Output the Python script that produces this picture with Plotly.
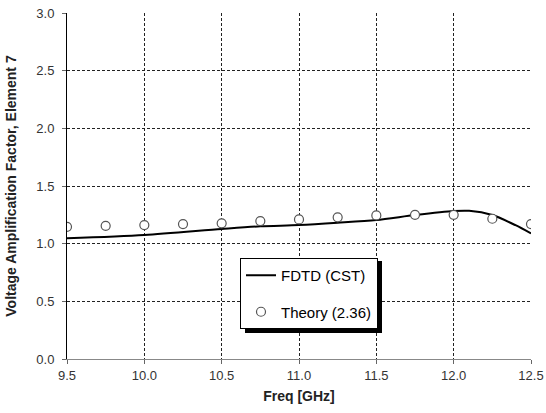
import plotly.graph_objects as go

freq_fdtd = [9.5, 10.0, 10.5, 10.75, 11.0, 11.25, 11.5, 11.75, 12.0, 12.1, 12.25, 12.4, 12.5]
fdtd = [1.046, 1.075, 1.127, 1.15, 1.161, 1.181, 1.205, 1.248, 1.283, 1.285, 1.248, 1.16, 1.089]

freq_theory = [9.5, 9.75, 10.0, 10.25, 10.5, 10.75, 11.0, 11.25, 11.5, 11.75, 12.0, 12.25, 12.5]
theory = [1.146, 1.155, 1.161, 1.17, 1.176, 1.196, 1.21, 1.228, 1.245, 1.25, 1.25, 1.216, 1.17]

x_ticks = [9.5, 10.0, 10.5, 11.0, 11.5, 12.0, 12.5]
y_ticks = [0.0, 0.5, 1.0, 1.5, 2.0, 2.5, 3.0]

fig = go.Figure()
fig.add_trace(go.Scatter(x=freq_fdtd, y=fdtd, mode="lines", name="FDTD (CST)",
                         line=dict(color="black", width=2, shape="spline", smoothing=0.8),
                         legendgroup="a"))
fig.add_trace(go.Scatter(x=freq_theory, y=theory, mode="markers", name="Theory (2.36)",
                         marker=dict(symbol="circle", size=9, color="white",
                                     line=dict(color="#555555", width=1.2)),
                         legendgroup="b"))

font_family = "Liberation Sans, Arial, sans-serif"
fig.update_layout(
    width=546, height=413,
    margin=dict(l=67, r=15, t=13, b=54),
    plot_bgcolor="white", paper_bgcolor="white",
    font=dict(family=font_family, size=13, color="#333333"),
    showlegend=True,
    legend=dict(x=(240 - 67) / 464, y=(359 - 258) / 346, xanchor="left", yanchor="top",
                bgcolor="white", bordercolor="black", borderwidth=1,
                font=dict(size=15, color="black"), tracegroupgap=14,
                itemwidth=30),
    xaxis=dict(range=[9.5, 12.5], tickvals=x_ticks, ticktext=[f"{v:.1f}" for v in x_ticks],
               showgrid=True, gridcolor="#222222", griddash="3px,2px", gridwidth=1,
               showline=True, linecolor="#888888", linewidth=1,
               ticks="outside", ticklen=4, tickcolor="#666666",
               zeroline=False, automargin=False,
               title=dict(text="<b>Freq [GHz]</b>", font=dict(size=14, color="#222222"), standoff=9)),
    yaxis=dict(range=[0, 3.0], tickvals=y_ticks, ticktext=[f"{v:.1f}" for v in y_ticks],
               showgrid=True, gridcolor="#222222", griddash="3px,2px", gridwidth=1,
               showline=True, linecolor="black", linewidth=1,
               ticks="outside", ticklen=4, tickcolor="#666666", ticklabelstandoff=5,
               zeroline=False, automargin=False,
               title=dict(text="<b>Voltage Amplification Factor, Element 7</b>",
                          font=dict(size=14, color="#222222"), standoff=16)),
)
# legend drop shadow
fig.add_shape(type="rect", xref="paper", yref="paper",
              x0=(245 - 67) / 464, x1=(382 - 67) / 464,
              y0=(359 - 333) / 346, y1=(359 - 261) / 346,
              fillcolor="black", line=dict(width=0), layer="above")

fig.write_html("out.html")
